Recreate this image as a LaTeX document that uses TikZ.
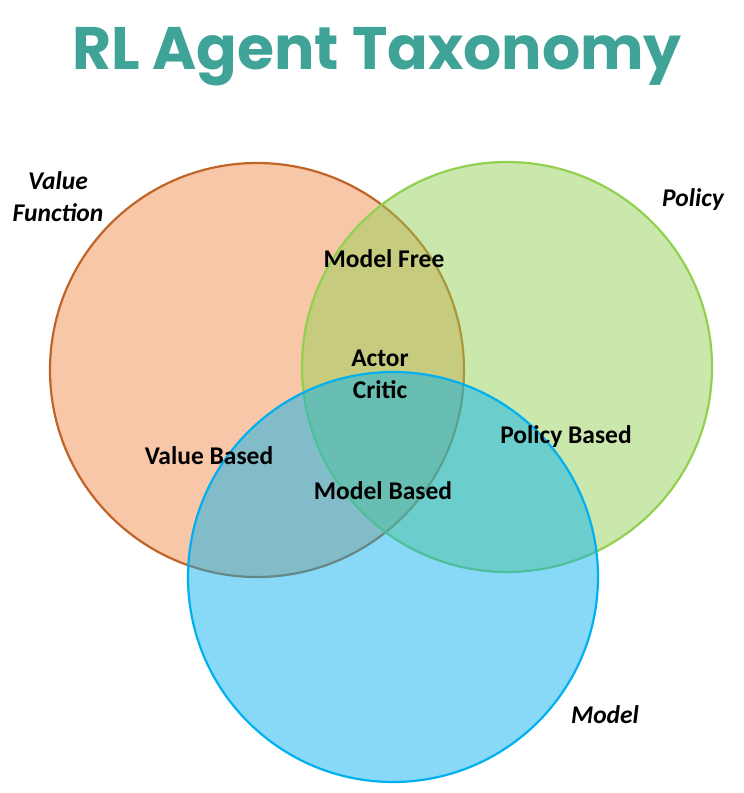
\documentclass[tikz,border=0pt]{standalone}
\usepackage{fontspec}
\setmainfont{Carlito}
\newfontfamily\titlefont{Poppins}
\definecolor{orangeC}{HTML}{F08A45}
\definecolor{orangeS}{HTML}{C0652A}
\definecolor{greenC}{HTML}{92D050}
\definecolor{blueC}{HTML}{00B0F0}
\definecolor{titleC}{HTML}{3FA398}
\begin{document}
\begin{tikzpicture}[x=1pt,y=-1pt,
  setcircle/.style={line width=2.2pt,fill opacity=0.47},
  lab/.style={font=\fontsize{25.5}{32}\selectfont\bfseries,align=center,text=black},
  setname/.style={font=\fontsize{25.5}{32}\selectfont\bfseries\itshape,align=center,text=black}]
\useasboundingbox (0,0) rectangle (744,793);
\fill[white] (0,0) rectangle (744,793);
\node[font=\titlefont\fontsize{60}{70}\selectfont\bfseries,text=titleC] (title) at (377,57) {RL Agent Taxonomy};
\path[setcircle,draw=orangeS,fill=orangeC] (257,370) circle[radius=207] coordinate (vf);
\path[setcircle,draw=greenC,fill=greenC] (507,367) circle[radius=205] coordinate (pc);
\path[setcircle,draw=blueC,fill=blueC] (393,577) circle[radius=205] coordinate (md);
\node[setname] (vfn) at (58,197) {Value\\Function};
\node[setname] (pn) at (693,200) {Policy};
\node[setname] (mn) at (605,715) {Model};
\node[lab] (mf) at (384,259) {Model Free};
\node[lab] (ac) at (380,374) {Actor\\Critic};
\node[lab] (vb) at (209,456) {Value Based};
\node[lab] (pb) at (566,437) {Policy Based};
\node[lab] (mb) at (383,491) {Model Based};
\end{tikzpicture}
\end{document}
